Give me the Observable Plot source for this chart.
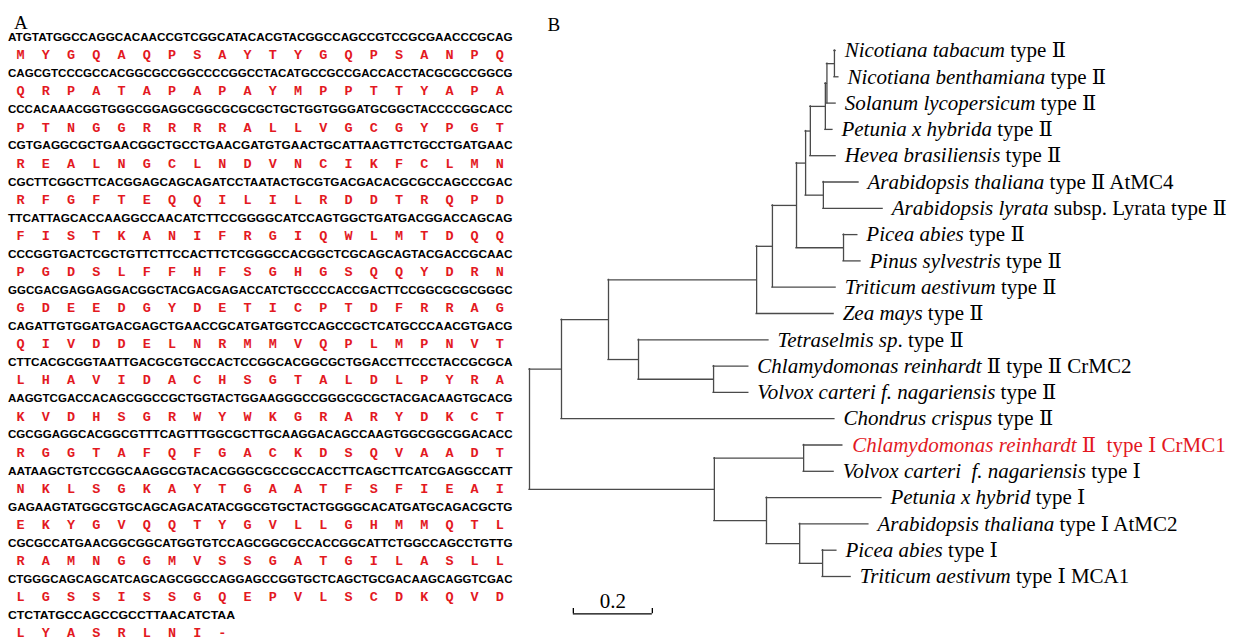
<!DOCTYPE html>
<html><head><meta charset="utf-8">
<script src="https://cdn.jsdelivr.net/npm/d3@7"></script>
<script src="https://cdn.jsdelivr.net/npm/@observablehq/plot@0.6"></script>
<style>
body{margin:0;background:#fff;}
#wrap{display:flex;width:1250px;height:640px;overflow:hidden;background:#fff;}
#wrap svg{display:block;}
</style></head><body><div id="wrap"></div>
<script>
// ---------- Panel A data ----------
const dnaLines = [
"ATGTATGGCCAGGCACAACCGTCGGCATACACGTACGGCCAGCCGTCCGCGAACCCGCAG",
"CAGCGTCCCGCCACGGCGCCGGCCCCGGCCTACATGCCGCCGACCACCTACGCGCCGGCG",
"CCCACAAACGGTGGGCGGAGGCGGCGCGCGCTGCTGGTGGGATGCGGCTACCCCGGCACC",
"CGTGAGGCGCTGAACGGCTGCCTGAACGATGTGAACTGCATTAAGTTCTGCCTGATGAAC",
"CGCTTCGGCTTCACGGAGCAGCAGATCCTAATACTGCGTGACGACACGCGCCAGCCCGAC",
"TTCATTAGCACCAAGGCCAACATCTTCCGGGGCATCCAGTGGCTGATGACGGACCAGCAG",
"CCCGGTGACTCGCTGTTCTTCCACTTCTCGGGCCACGGCTCGCAGCAGTACGACCGCAAC",
"GGCGACGAGGAGGACGGCTACGACGAGACCATCTGCCCCACCGACTTCCGGCGCGCGGGC",
"CAGATTGTGGATGACGAGCTGAACCGCATGATGGTCCAGCCGCTCATGCCCAACGTGACG",
"CTTCACGCGGTAATTGACGCGTGCCACTCCGGCACGGCGCTGGACCTTCCCTACCGCGCA",
"AAGGTCGACCACAGCGGCCGCTGGTACTGGAAGGGCCGGGCGCGCTACGACAAGTGCACG",
"CGCGGAGGCACGGCGTTTCAGTTTGGCGCTTGCAAGGACAGCCAAGTGGCGGCGGACACC",
"AATAAGCTGTCCGGCAAGGCGTACACGGGCGCCGCCACCTTCAGCTTCATCGAGGCCATT",
"GAGAAGTATGGCGTGCAGCAGACATACGGCGTGCTACTGGGGCACATGATGCAGACGCTG",
"CGCGCCATGAACGGCGGCATGGTGTCCAGCGGCGCCACCGGCATTCTGGCCAGCCTGTTG",
"CTGGGCAGCAGCATCAGCAGCGGCCAGGAGCCGGTGCTCAGCTGCGACAAGCAGGTCGAC",
"CTCTATGCCAGCCGCCTTAACATCTAA"
];
const aaLines = [
"MYGQAQPSAYTYGQPSANPQ",
"QRPATAPAPAYMPPTTYAPA",
"PTNGGRRRRALLVGCGYPGT",
"REALNGCLNDVNCIKFCLMN",
"RFGFTEQQILILRDDTRQPD",
"FISTKANIFRGIQWLMTDQQ",
"PGDSLFFHFSGHGSQQYDRN",
"GDEEDGYDETICPTDFRRAG",
"QIVDDELNRMMVQPLMPNVT",
"LHAVIDACHSGTALDLPYRA",
"KVDHSGRWYWKGRARYDKCT",
"RGGTAFQFGACKDSQVAADT",
"NKLSGKAYTGAATFSFIEAI",
"EKYGVQQTYGVLLGHMMQTL",
"RAMNGGMVSSGATGILASLL",
"LGSSISSGQEPVLSCDKQVD",
"LYASRLNI-"
];

// ---------- Panel B data ----------
const leafItalic = [
"Nicotiana tabacum","Nicotiana benthamiana","Solanum lycopersicum","Petunia x hybrida",
"Hevea brasiliensis","Arabidopsis thaliana","Arabidopsis lyrata","Picea abies",
"Pinus sylvestris","Triticum aestivum","Zea mays","Tetraselmis sp",
"Chlamydomonas reinhardt","Volvox carteri f. nagariensis","Chondrus crispus",
"Chlamydomonas reinhardt","Volvox carteri  f. nagariensis","Petunia x hybrid",
"Arabidopsis thaliana","Picea abies","Triticum aestivum"
];
const leafRoman = [
" type Ⅱ"," type Ⅱ"," type Ⅱ"," type Ⅱ",
" type Ⅱ"," type Ⅱ AtMC4"," subsp. Lyrata type Ⅱ"," type Ⅱ",
" type Ⅱ"," type Ⅱ"," type Ⅱ",". type Ⅱ",
" Ⅱ type Ⅱ CrMC2"," type Ⅱ"," type Ⅱ",
" Ⅱ  type Ⅰ CrMC1"," type Ⅰ"," type Ⅰ",
" type Ⅰ AtMC2"," type Ⅰ"," type Ⅰ MCA1"
];
const leafParent = ["I","I","H","G","F2","J","J","K","K","D","C","L","M","M","A","O","O","P","Q","R","R"];
const leafDepth = [0.775,0.782,0.775,0.767,0.775,0.833,0.894,0.830,0.838,0.775,0.770,0.605,0.554,0.554,0.772,0.792,0.770,0.891,0.858,0.777,0.813];
const highlightLeaf = [15];

const nodeNames  = ["root","A","B","C","D","E","F","F2","G","H","I","J","K","L","M","N","O","P","Q","R"];
const nodeParent = [null,"root","A","B","C","D","E","F","F2","G","H","F","E","B","L","root","N","N","P","Q"];
const nodeDepth  = [0,0.081,0.200,0.575,0.615,0.676,0.699,0.711,0.749,0.753,0.772,0.744,0.795,0.276,0.466,0.468,0.694,0.600,0.684,0.742];

const scaleBar = {x1:0.111, x2:0.311, y:21.42, label:"0.2"};

const RED = "#e3191f";
const SERIF = "'Liberation Serif','Times New Roman','DejaVu Serif','Noto Sans CJK SC',serif";

// ---------- Panel A ----------
const dnaData = dnaLines.map((s, r) => ({row: r, seq: s}));
const aaData = aaLines.flatMap((s, r) => [...s].map((c, i) => ({row: r, pos: 3 * i + 1.5, aa: c})));

const plotA = Plot.plot({
  width: 520, height: 640,
  marginLeft: 7.5, marginRight: 8, marginTop: 37, marginBottom: 25,
  x: {domain: [0, 60], axis: null},
  y: {domain: [0, 16], reverse: true, axis: null},
  style: {background: "white"},
  marks: [
    Plot.text(dnaData, {x: d => 0, y: "row", text: "seq", textAnchor: "start",
      fontSize: 11.1, fontWeight: "bold", fontFamily: "'Liberation Sans',Arial,sans-serif",
      fill: "#000", ariaDescription: "dna"}),
    Plot.text(aaData, {x: "pos", y: "row", dy: 17.5, text: "aa",
      fontSize: 13.5, fontWeight: "bold", fontFamily: "'Courier New','Liberation Mono',monospace",
      fill: RED}),
    Plot.text(["A"], {frameAnchor: "top-left", text: d => d, textAnchor: "start", dx: 6, dy: -22.5,
      fontSize: 19, fontFamily: SERIF, fill: "#000"})
  ]
});
// fit each DNA line exactly onto the codon grid
{
  const sx = plotA.scale("x");
  const charW = sx.apply(1) - sx.apply(0);
  d3.select(plotA).selectAll('g[aria-description="dna"] text').each(function(_, k) {
    const n = dnaData[k].seq.length;
    d3.select(this).attr("textLength", n * charW).attr("lengthAdjust", "spacingAndGlyphs");
  });
}

// ---------- Panel B ----------
const leaves = leafItalic.map((it, i) => ({i, it, ro: leafRoman[i], parent: leafParent[i], depth: leafDepth[i], red: highlightLeaf.includes(i)}));
const nodes = new Map(nodeNames.map((n, k) => [n, {name: n, parent: nodeParent[k], depth: nodeDepth[k], kids: []}]));
leaves.forEach(l => nodes.get(l.parent).kids.push({depth: l.depth, y: l.i}));
nodeNames.forEach(n => { const p = nodes.get(n).parent; if (p) nodes.get(p).kids.push(nodes.get(n)); });
function nodeY(nd) {
  if (nd.y !== undefined) return nd.y;
  const ys = nd.kids.map(nodeY);
  nd.y1 = d3.min(ys); nd.y2 = d3.max(ys);
  nd.y = (nd.y1 + nd.y2) / 2;
  return nd.y;
}
nodeY(nodes.get("root"));
const hSegs = [
  ...leaves.map(l => ({x1: nodes.get(l.parent).depth, x2: l.depth, y: l.i})),
  ...nodeNames.filter(n => nodes.get(n).parent).map(n => {
    const nd = nodes.get(n);
    return {x1: nodes.get(nd.parent).depth, x2: nd.depth, y: nd.y};
  })
];
const vSegs = nodeNames.map(n => { const nd = nodes.get(n); return {x: nd.depth, y1: nd.y1, y2: nd.y2}; });

const blackLeaves = leaves.filter(d => !d.red);
const redLeaves = leaves.filter(d => d.red);

const plotB = Plot.plot({
  width: 730, height: 640,
  marginLeft: 9, marginRight: 10, marginTop: 50, marginBottom: 64,
  x: {domain: [0, 1.8], axis: null},
  y: {domain: [0, 20], reverse: true, axis: null},
  style: {background: "white"},
  marks: [
    Plot.ruleY(hSegs, {y: "y", x1: "x1", x2: "x2", stroke: "#4a4a4a", strokeWidth: 1.3, strokeLinecap: "square"}),
    Plot.ruleX(vSegs, {x: "x", y1: "y1", y2: "y2", stroke: "#4a4a4a", strokeWidth: 1.3, strokeLinecap: "square"}),
    Plot.text(blackLeaves, {x: "depth", y: "i", text: d => d.it + d.ro, textAnchor: "start", dx: 9,
      fontSize: 21, fontFamily: SERIF, fill: "#000", ariaDescription: "labels-black"}),
    Plot.text(redLeaves, {x: "depth", y: "i", text: d => d.it + d.ro, textAnchor: "start", dx: 10,
      fontSize: 21, fontFamily: SERIF, fill: RED, ariaDescription: "labels-red"}),
    Plot.ruleY([scaleBar], {y: "y", x1: "x1", x2: "x2", stroke: "#000", strokeWidth: 1.3}),
    Plot.ruleX([scaleBar.x1, scaleBar.x2], {x: d => d, y1: () => scaleBar.y - 0.2, y2: () => scaleBar.y, stroke: "#000", strokeWidth: 1.3}),
    Plot.text([scaleBar], {x: d => (d.x1 + d.x2) / 2, y: "y", text: "label", dy: -13,
      fontSize: 21, fontFamily: SERIF, fill: "#000"}),
    Plot.text(["B"], {frameAnchor: "top-left", text: d => d, textAnchor: "start", dx: 18, dy: -33,
      fontSize: 19, fontFamily: SERIF, fill: "#000"})
  ]
});
// mixed italic / roman labels
function styleLabels(sel, data) {
  d3.select(plotB).selectAll(sel).each(function(_, k) {
    const d = data[k];
    const t = d3.select(this);
    t.text(null).style("white-space", "pre");
    t.append("tspan").attr("font-style", "italic").text(d.it);
    t.append("tspan").text(d.ro);
  });
}
styleLabels('g[aria-description="labels-black"] text', blackLeaves);
styleLabels('g[aria-description="labels-red"] text', redLeaves);

document.getElementById("wrap").append(plotA, plotB);
</script>
</body></html>
